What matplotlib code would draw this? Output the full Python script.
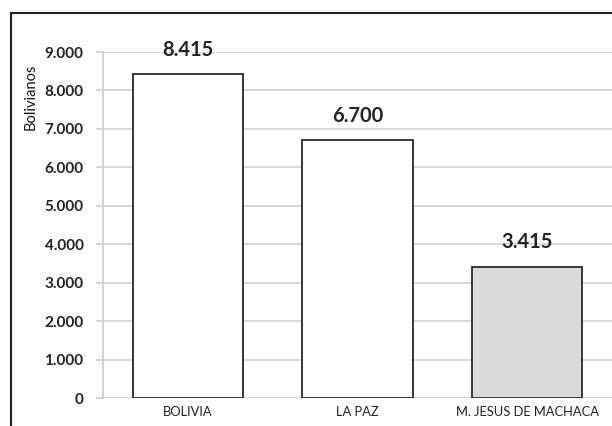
import matplotlib.pyplot as plt
from matplotlib.patches import Rectangle

categories = ["BOLIVIA", "LA PAZ", "M. JESUS DE MACHACA"]
values = [8415, 6700, 3415]
labels = ["8.415", "6.700", "3.415"]
colors = ["white", "white", "#d9dadc"]
yticks = [0, 1000, 2000, 3000, 4000, 5000, 6000, 7000, 8000, 9000]
ytick_labels = ["0", "1.000", "2.000", "3.000", "4.000", "5.000", "6.000", "7.000", "8.000", "9.000"]

plt.rcParams['font.family'] = ['Lato', 'DejaVu Sans']

fig = plt.figure(figsize=(6.12, 4.26), dpi=100)
W, H = 612, 426
ax = fig.add_axes([103 / W, 1 - 398 / H, (612 - 103) / W, (398 - 52) / H])

# outer frame (cut off at right and bottom)
fig.patches.append(Rectangle((11 / W, -0.1), 1.2, 1 - 13 / H + 0.1,
                             transform=fig.transFigure, fill=False,
                             edgecolor="#222222", linewidth=1.5))

x = range(len(categories))
ax.bar(x, values, width=0.65, color=colors, edgecolor="#2a2a2a", linewidth=1.3, zorder=3)
for i, v in enumerate(values):
    ax.text(i, v + 640, labels[i], ha="center", va="center", fontsize=14.5,
            fontweight="bold", color="#222222", clip_on=False)

ax.set_xlim(-0.5, 2.5)
ax.set_ylim(0, 9000)
ax.set_yticks(yticks)
ax.set_yticklabels(ytick_labels, fontsize=11, fontweight="bold", color="#222222")
ax.set_xticks(list(x))
ax.set_xticklabels(categories, fontsize=9.3, color="#222222")
ax.tick_params(axis="y", length=5, color="#d0d0d0", width=1.3, pad=9)
ax.tick_params(axis="x", length=0, pad=6)
ax.grid(axis="y", color="#d4d4d4", linewidth=1.3, zorder=0)
for s in ["top", "right", "bottom"]:
    ax.spines[s].set_visible(False)
ax.spines["left"].set_color("#d0d0d0")
ax.spines["left"].set_linewidth(1.3)
ax.set_ylabel("Bolivianos", fontsize=10.5, color="#111111")
ax.yaxis.set_label_coords(-0.128, 0.87)

plt.savefig("out.png", dpi=100)
